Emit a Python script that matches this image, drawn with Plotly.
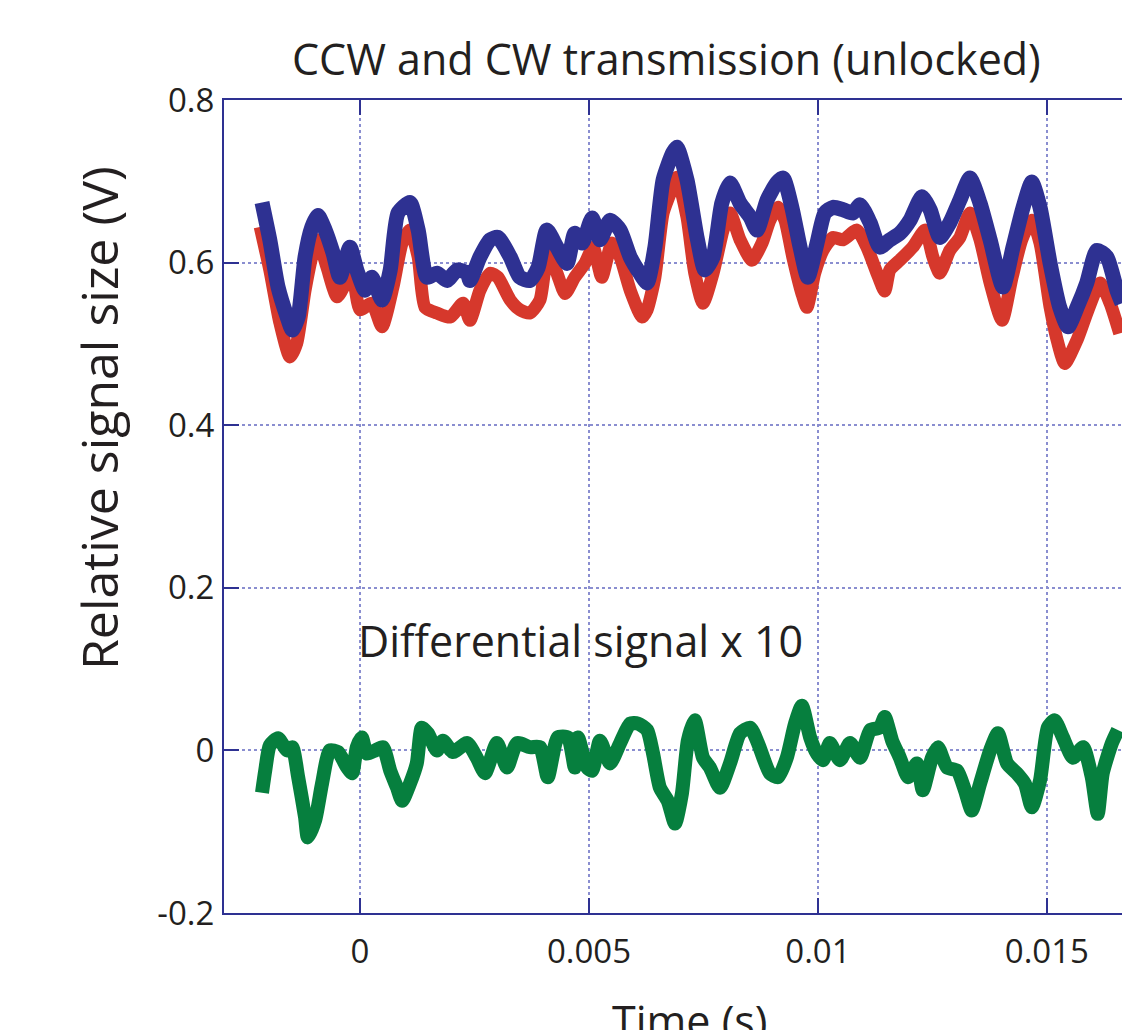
import plotly.graph_objects as go

# ---- data ----
t_ccw = [-0.00214, -0.00197, -0.00179, -0.00159, -0.00148, -0.00135, -0.00120, -0.00105, -0.00092,
         -0.00076, -0.00059, -0.00044, -0.00022, -0.00007, 0.00011, 0.00026, 0.00048, 0.00066,
         0.00083, 0.00109, 0.00127, 0.00146, 0.00168, 0.00190, 0.00212, 0.00234, 0.00240, 0.00262,
         0.00284, 0.00301, 0.00328, 0.00349, 0.00371, 0.00389, 0.00408, 0.00430, 0.00452, 0.00469,
         0.00485, 0.00507, 0.00524, 0.00546, 0.00568, 0.00590, 0.00611, 0.00627, 0.00644, 0.00662,
         0.00683, 0.00692, 0.00714, 0.00736, 0.00753, 0.00771, 0.00790, 0.00808, 0.00830, 0.00852,
         0.00867, 0.00889, 0.00910, 0.00924, 0.00943, 0.00961, 0.00978, 0.00998, 0.01015, 0.01033,
         0.01055, 0.01076, 0.01092, 0.01114, 0.01135, 0.01157, 0.01179, 0.01201, 0.01227, 0.01245,
         0.01266, 0.01288, 0.01310, 0.01332, 0.01354, 0.01376, 0.01404, 0.01426, 0.01448, 0.01467,
         0.01485, 0.01507, 0.01528, 0.01546, 0.01566, 0.01587, 0.01609, 0.01631, 0.01653, 0.01664]
v_ccw = [0.674, 0.628, 0.570, 0.533, 0.517, 0.533, 0.607, 0.644, 0.658,
         0.640, 0.612, 0.582, 0.619, 0.591, 0.566, 0.582, 0.554, 0.591,
         0.661, 0.674, 0.640, 0.582, 0.587, 0.578, 0.591, 0.587, 0.578, 0.607,
         0.628, 0.631, 0.607, 0.582, 0.578, 0.594, 0.640, 0.619, 0.599, 0.636,
         0.624, 0.655, 0.628, 0.652, 0.640, 0.607, 0.587, 0.575, 0.619, 0.702,
         0.735, 0.742, 0.702, 0.631, 0.591, 0.607, 0.673, 0.698, 0.673, 0.656,
         0.640, 0.677, 0.698, 0.704, 0.668, 0.619, 0.582, 0.624, 0.661, 0.668,
         0.665, 0.661, 0.671, 0.649, 0.619, 0.628, 0.636, 0.652, 0.681, 0.665,
         0.631, 0.649, 0.677, 0.704, 0.673, 0.628, 0.570, 0.619, 0.668, 0.699,
         0.668, 0.599, 0.545, 0.521, 0.545, 0.575, 0.615, 0.607, 0.566, 0.550]

t_cw = [-0.00218, -0.00197, -0.00175, -0.00153, -0.00138, -0.00120, -0.00103, -0.00092, -0.00072,
        -0.00050, -0.00028, -0.00017, 0.00000, 0.00026, 0.00048, 0.00072, 0.00092, 0.00109,
        0.00127, 0.00142, 0.00168, 0.00197, 0.00225, 0.00240, 0.00262, 0.00284, 0.00301, 0.00328,
        0.00349, 0.00371, 0.00393, 0.00410, 0.00430, 0.00448, 0.00469, 0.00491, 0.00509, 0.00528,
        0.00550, 0.00568, 0.00590, 0.00616, 0.00627, 0.00644, 0.00662, 0.00683, 0.00692, 0.00714,
        0.00731, 0.00749, 0.00771, 0.00793, 0.00808, 0.00830, 0.00856, 0.00878, 0.00895, 0.00913,
        0.00928, 0.00945, 0.00965, 0.00976, 0.00993, 0.01011, 0.01033, 0.01055, 0.01085, 0.01107,
        0.01129, 0.01146, 0.01157, 0.01179, 0.01207, 0.01234, 0.01251, 0.01266, 0.01288, 0.01310,
        0.01332, 0.01354, 0.01376, 0.01402, 0.01424, 0.01445, 0.01467, 0.01485, 0.01507, 0.01524,
        0.01539, 0.01566, 0.01590, 0.01616, 0.01638, 0.01659]
v_cw = [0.644, 0.591, 0.526, 0.484, 0.501, 0.566, 0.612, 0.628, 0.594,
        0.558, 0.578, 0.587, 0.542, 0.550, 0.521, 0.570, 0.624, 0.640,
        0.607, 0.545, 0.538, 0.533, 0.550, 0.529, 0.566, 0.587, 0.582, 0.554,
        0.542, 0.538, 0.554, 0.612, 0.587, 0.562, 0.582, 0.599, 0.619, 0.582,
        0.624, 0.607, 0.566, 0.533, 0.542, 0.582, 0.661, 0.693, 0.705, 0.656,
        0.587, 0.550, 0.587, 0.640, 0.661, 0.628, 0.603, 0.624, 0.652, 0.668,
        0.652, 0.607, 0.562, 0.545, 0.587, 0.615, 0.631, 0.628, 0.640, 0.619,
        0.587, 0.565, 0.591, 0.603, 0.619, 0.640, 0.607, 0.587, 0.615, 0.631,
        0.661, 0.628, 0.575, 0.529, 0.582, 0.628, 0.652, 0.624, 0.545, 0.501,
        0.476, 0.505, 0.542, 0.575, 0.550, 0.513]

t_diff = [-0.00214, -0.00207, -0.00197, -0.00179, -0.00159, -0.00148, -0.00135, -0.00120, -0.00114,
          -0.00098, -0.00083, -0.00066, -0.00048, -0.00028, -0.00017, -0.00007, 0.00004, 0.00015,
          0.00033, 0.00050, 0.00066, 0.00081, 0.00092, 0.00109, 0.00124, 0.00135, 0.00148, 0.00168,
          0.00181, 0.00203, 0.00234, 0.00255, 0.00273, 0.00299, 0.00321, 0.00343, 0.00371, 0.00393,
          0.00410, 0.00432, 0.00454, 0.00469, 0.00476, 0.00496, 0.00507, 0.00524, 0.00546, 0.00568,
          0.00590, 0.00607, 0.00627, 0.00640, 0.00655, 0.00672, 0.00688, 0.00703, 0.00716, 0.00731,
          0.00749, 0.00764, 0.00786, 0.00808, 0.00830, 0.00852, 0.00869, 0.00895, 0.00913, 0.00932,
          0.00950, 0.00965, 0.00983, 0.00998, 0.01011, 0.01026, 0.01048, 0.01070, 0.01092, 0.01114,
          0.01135, 0.01146, 0.01162, 0.01179, 0.01197, 0.01216, 0.01229, 0.01249, 0.01262, 0.01282,
          0.01304, 0.01321, 0.01336, 0.01354, 0.01376, 0.01393, 0.01413, 0.01434, 0.01452, 0.01467,
          0.01485, 0.01502, 0.01517, 0.01535, 0.01557, 0.01579, 0.01598, 0.01611, 0.01622, 0.01642,
          0.01655]
v_diff = [-0.052, -0.025, 0.006, 0.015, 0.000, 0.004, -0.033, -0.082, -0.107,
          -0.086, -0.041, 0.000, -0.002, -0.021, -0.028, 0.004, 0.016, -0.004,
          0.000, 0.004, -0.025, -0.046, -0.062, -0.041, -0.016, 0.028, 0.021, 0.000,
          0.012, -0.002, 0.009, -0.009, -0.028, 0.009, -0.021, 0.009, 0.004, 0.004,
          -0.033, 0.016, 0.016, -0.021, 0.016, -0.021, -0.025, 0.012, -0.016, 0.009,
          0.033, 0.033, 0.025, -0.004, -0.046, -0.062, -0.090, -0.053, 0.012, 0.037,
          -0.009, -0.021, -0.046, -0.016, 0.021, 0.028, 0.009, -0.028, -0.033, -0.009,
          0.033, 0.055, 0.016, -0.004, -0.012, 0.009, -0.012, 0.009, -0.009, 0.025,
          0.028, 0.041, 0.012, -0.009, -0.033, -0.016, -0.049, -0.009, 0.004, -0.021,
          -0.025, -0.049, -0.074, -0.041, 0.000, 0.021, -0.016, -0.028, -0.041, -0.070,
          -0.037, 0.028, 0.037, 0.016, -0.009, 0.004, -0.033, -0.078, -0.028, 0.009,
          0.025]

x_tickvals = [0, 0.005, 0.01, 0.015]
x_ticktext = ["0", "0.005", "0.01", "0.015"]
y_tickvals = [-0.2, 0, 0.2, 0.4, 0.6, 0.8]
y_ticktext = ["-0.2", "0", "0.2", "0.4", "0.6", "0.8"]

title_text = "CCW and CW transmission (unlocked)"
x_title = "Time (s)"
y_title = "Relative signal size (V)"
diff_label = "Differential signal x 10"

AXIS = "#2e3192"
GRID = "#8a8ed0"
FONT = "Open Sans"
TXT = "#231f20"

fig = go.Figure()
fig.add_trace(go.Scatter(x=t_cw, y=v_cw, mode="lines",
                         line=dict(color="#d6382c", width=13, shape="spline", smoothing=0.6),
                         showlegend=False))
fig.add_trace(go.Scatter(x=t_ccw, y=v_ccw, mode="lines",
                         line=dict(color="#2e3192", width=15, shape="spline", smoothing=0.6),
                         showlegend=False))
fig.add_trace(go.Scatter(x=t_diff, y=v_diff, mode="lines",
                         line=dict(color="#067f3e", width=14, shape="spline", smoothing=0.6),
                         showlegend=False))

W, H = 1122, 1030
L, R, T, B = 224, 1122, 100, 913

fig.update_layout(
    width=W, height=H,
    margin=dict(l=L, r=W - R, t=T, b=H - B),
    paper_bgcolor="white", plot_bgcolor="white",
    font=dict(family=FONT, color=TXT),
)


def px(xp):
    return (xp - L) / (R - L)


def py(yp):
    return (B - yp) / (B - T)


fig.add_annotation(text=title_text, x=px(666), y=py(58), xref="paper", yref="paper",
                   showarrow=False, xanchor="center", yanchor="middle",
                   font=dict(size=43, family=FONT, color=TXT))
fig.add_annotation(text=y_title, x=px(99), y=py(418), xref="paper", yref="paper",
                   showarrow=False, textangle=-90, xanchor="center", yanchor="middle",
                   font=dict(size=50, family=FONT, color=TXT))
fig.add_annotation(text=x_title, x=px(690), y=py(1020), xref="paper", yref="paper",
                   showarrow=False, xanchor="center", yanchor="middle",
                   font=dict(size=43, family=FONT, color=TXT))
fig.add_annotation(text=diff_label, x=-0.00008, y=0.135, xref="x", yref="y",
                   showarrow=False, xanchor="left", yanchor="middle",
                   font=dict(size=43, family=FONT, color=TXT))

fig.update_xaxes(range=[-0.00297, 0.01664], tickvals=x_tickvals, ticktext=x_ticktext,
                 showline=True, linecolor=AXIS, linewidth=2, mirror="ticks",
                 ticks="inside", ticklen=15, tickwidth=2, tickcolor=AXIS,
                 showgrid=True, gridcolor=GRID, gridwidth=2, griddash="dot",
                 zeroline=False, tickfont=dict(size=33, family=FONT, color=TXT),
                 ticklabelstandoff=8)
fig.update_yaxes(range=[-0.2, 0.8], tickvals=y_tickvals, ticktext=y_ticktext,
                 showline=True, linecolor=AXIS, linewidth=2, mirror=False,
                 ticks="inside", ticklen=15, tickwidth=2, tickcolor=AXIS,
                 showgrid=True, gridcolor=GRID, gridwidth=2, griddash="dot",
                 zeroline=False, tickfont=dict(size=33, family=FONT, color=TXT),
                 ticklabelstandoff=1)

fig.write_html(
    "out.html",
    config={"displayModeBar": False},
    post_script=("document.body.style.margin='0';"
                 "document.body.style.overflow='hidden';"
                 "document.documentElement.style.overflow='hidden';"),
)
